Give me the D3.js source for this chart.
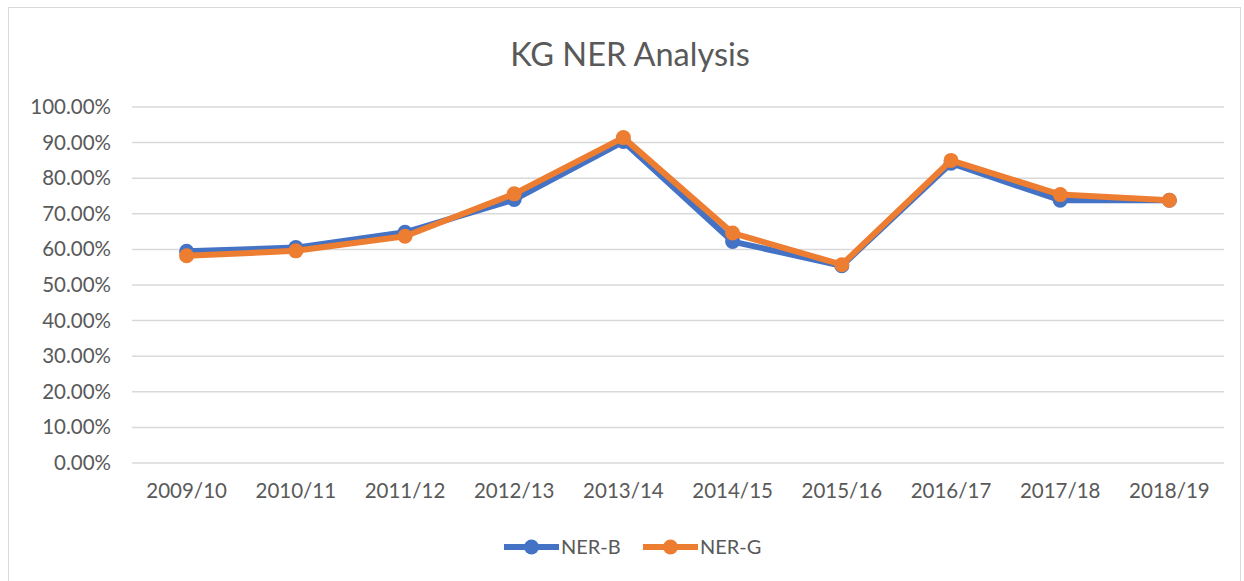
<!DOCTYPE html>
<html>
<head>
<meta charset="utf-8">
<script src="https://cdn.jsdelivr.net/npm/d3@7"></script>
<style>
  body { margin: 0; background: #fff; }
  text { font-family: Lato, "Open Sans", sans-serif; fill: #595959; }
</style>
</head>
<body>
<div id="chart"></div>
<script>
const years = ["2009/10", "2010/11", "2011/12", "2012/13", "2013/14", "2014/15", "2015/16", "2016/17", "2017/18", "2018/19"];
const nerB = [59.5, 60.5, 64.8, 74.0, 90.3, 62.2, 55.4, 84.2, 73.8, 73.8];
const nerG = [58.2, 59.6, 63.7, 75.6, 91.4, 64.6, 55.7, 85.0, 75.4, 73.8];
const yTicks = [0, 10, 20, 30, 40, 50, 60, 70, 80, 90, 100];

const w = 1244;
const h = 581;
const plotLeft = 132, plotRight = 1224, plotTop = 107, plotBottom = 463;

const svg = d3.select("#chart")
  .append("svg")
  .attr("width", w)
  .attr("height", h);

// chart border
svg.append("rect")
  .attr("x", 8.5)
  .attr("y", 7.5)
  .attr("width", 1232)
  .attr("height", 580)
  .attr("fill", "#fff")
  .attr("stroke", "#d9d9d9");

const xScale = d3.scaleBand()
  .domain(years)
  .range([plotLeft, plotRight]);

const yScale = d3.scaleLinear()
  .domain([0, 100])
  .range([plotBottom, plotTop]);

// gridlines
svg.append("g")
  .selectAll("line")
  .data(yTicks)
  .enter()
  .append("line")
  .attr("x1", plotLeft)
  .attr("x2", plotRight)
  .attr("y1", d => yScale(d))
  .attr("y2", d => yScale(d))
  .attr("stroke", "#d9d9d9")
  .attr("stroke-width", 1.5);

// y axis labels
const yAxis = d3.axisLeft(yScale)
  .tickValues(yTicks)
  .tickFormat(d => d.toFixed(2) + "%")
  .tickSize(0)
  .tickPadding(21);

svg.append("g")
  .attr("transform", "translate(" + plotLeft + ", 0)")
  .call(yAxis)
  .call(g => g.select(".domain").remove())
  .selectAll("text")
  .style("font-size", "20.5px");

// x axis labels
const xAxis = d3.axisBottom(xScale).tickSize(0).tickPadding(20);
svg.append("g")
  .attr("transform", "translate(0, " + plotBottom + ")")
  .call(xAxis)
  .call(g => g.select(".domain").remove())
  .selectAll("text")
  .style("font-size", "20.5px");

// title
svg.append("text")
  .attr("x", 630)
  .attr("y", 66)
  .attr("text-anchor", "middle")
  .style("font-size", "32.5px")
  .text("KG NER Analysis");

const series = [
  { name: "NER-B", values: nerB, color: "#4472C4" },
  { name: "NER-G", values: nerG, color: "#ED7D31" }
];

const line = d3.line()
  .x((d, i) => xScale(years[i]) + xScale.bandwidth() / 2)
  .y(d => yScale(d));

series.forEach(s => {
  svg.append("path")
    .datum(s.values)
    .attr("d", line)
    .attr("fill", "none")
    .attr("stroke", s.color)
    .attr("stroke-width", 6)
    .attr("stroke-linejoin", "round");

  svg.append("g")
    .selectAll("circle")
    .data(s.values)
    .enter()
    .append("circle")
    .attr("cx", (d, i) => xScale(years[i]) + xScale.bandwidth() / 2)
    .attr("cy", d => yScale(d))
    .attr("r", 7.5)
    .attr("fill", s.color);
});

// legend
const legend = svg.append("g").attr("transform", "translate(504, 547)");
series.forEach((s, i) => {
  const g = legend.append("g").attr("transform", "translate(" + (i * 139) + ", 0)");
  g.append("line")
    .attr("x1", 0).attr("x2", 55)
    .attr("y1", 0).attr("y2", 0)
    .attr("stroke", s.color)
    .attr("stroke-width", 6);
  g.append("circle")
    .attr("cx", 27.5).attr("cy", 0).attr("r", 7.5)
    .attr("fill", s.color);
  g.append("text")
    .attr("x", 57)
    .attr("y", 0)
    .attr("dy", "0.35em")
    .style("font-size", "20px")
    .text(s.name);
});
</script>
</body>
</html>
